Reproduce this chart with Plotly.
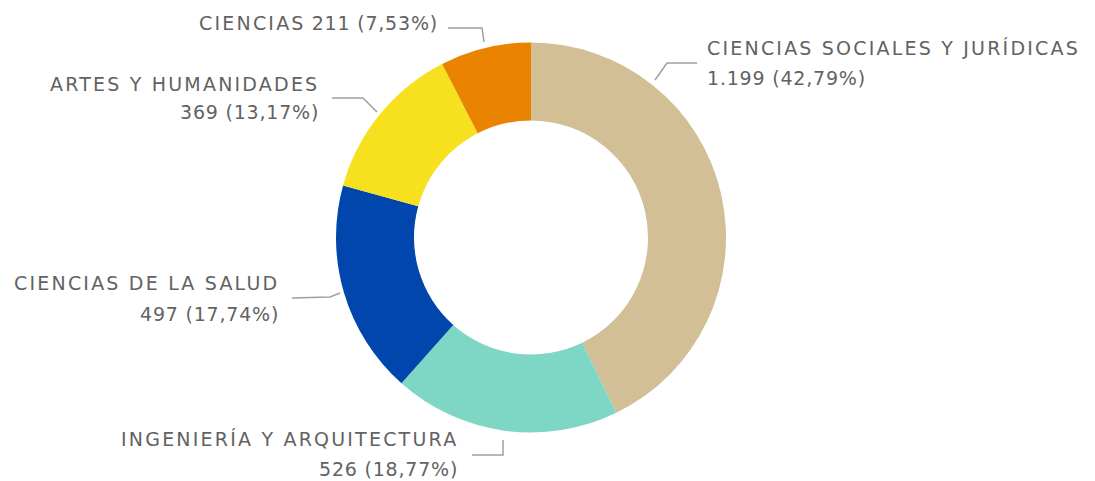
import plotly.graph_objects as go

# ---- data ----
categories = ["CIENCIAS SOCIALES Y JURÍDICAS", "INGENIERÍA Y ARQUITECTURA",
              "CIENCIAS DE LA SALUD", "ARTES Y HUMANIDADES", "CIENCIAS"]
values = [1199, 526, 497, 369, 211]
colors = ["#D3BF95", "#7ED6C5", "#0046AD", "#F7E11E", "#E98300"]

WIN_W, WIN_H = 1095, 481
OFF = 8  # default page body margin
W, H = WIN_W - OFF, WIN_H - OFF
total = sum(values)

def fmt_int(v):
    return f"{v:,}".replace(",", ".")

def fmt_pct(v):
    return f"{v / total * 100:.2f}".replace(".", ",") + "%"

# ---- label layout (window pixel coords): leader line points, text x anchor, line centres ----
label_layout = [
    dict(line=[(655, 80), (667, 63), (697, 63)], x=705, ys=[48.5, 77.5], align="left"),
    dict(line=[(503, 440), (503, 455), (472, 455)], x=460, ys=[439, 469], align="right"),
    dict(line=[(340, 293), (330, 297), (292, 298)], x=281, ys=[283, 313.5], align="right"),
    dict(line=[(377, 112), (363, 98), (332, 98)], x=321, ys=[84, 112.5], align="right"),
    dict(line=[(484, 42), (482, 28), (448, 28)], x=440, ys=[22.5], align="right"),
]

def px(x):
    return (x - OFF) / W

def py(y):
    return 1 - (y - OFF) / H

cx, cy, r = 531, 237.5, 195
fig = go.Figure(go.Pie(
    labels=categories, values=values, sort=False, direction="clockwise", rotation=0,
    hole=0.6, marker=dict(colors=colors, line=dict(width=0)),
    textinfo="none", hoverinfo="label+value+percent", showlegend=False,
    domain=dict(x=[px(cx - r), px(cx + r)], y=[py(cy + r), py(cy - r)]),
))

font = dict(family="'DejaVu Sans', sans-serif", size=19, color="#626262")
SP_TXT = '<span style="letter-spacing:2.2px">'
SP_NUM = '<span style="letter-spacing:0.8px">'
annotations, shapes = [], []
for cat, v, lay in zip(categories, values, label_layout):
    pts = lay["line"]
    path = "M " + " L ".join(f"{px(x)},{py(y)}" for x, y in pts)
    shapes.append(dict(type="path", path=path, xref="paper", yref="paper",
                       line=dict(color="#A0A0A0", width=1.5)))
    name = f"{SP_TXT}{cat}</span>"
    num = f"{SP_NUM}{fmt_int(v)} ({fmt_pct(v)})</span>"
    lines = [f"{name} {num}"] if len(lay["ys"]) == 1 else [name, num]
    for txt, y in zip(lines, lay["ys"]):
        annotations.append(dict(
            x=px(lay["x"]), y=py(y), xref="paper", yref="paper", text=txt, showarrow=False,
            xanchor="left" if lay["align"] == "left" else "right", yanchor="middle",
            align=lay["align"], font=font))

fig.update_layout(width=W, height=H, margin=dict(l=0, r=0, t=0, b=0),
                  paper_bgcolor="white", plot_bgcolor="white",
                  annotations=annotations, shapes=shapes)
fig.write_html("out.html")
